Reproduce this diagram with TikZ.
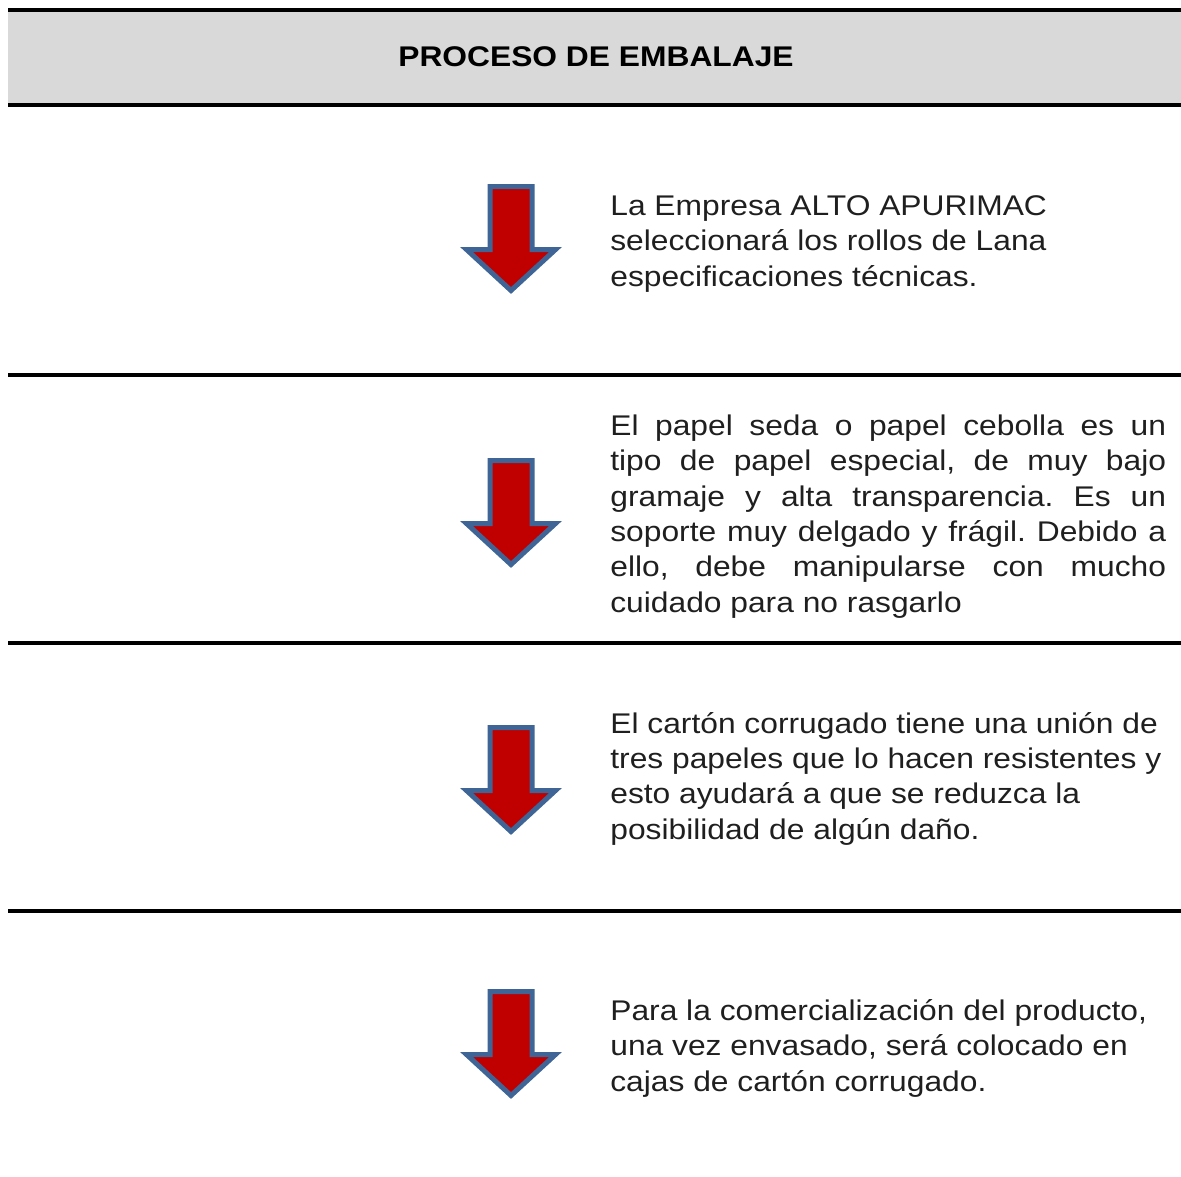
\documentclass[tikz,border=0pt]{standalone}
\usepackage{fontspec}
\setmainfont{Liberation Sans}[FakeStretch=1.116]
\usetikzlibrary{positioning}
\frenchspacing
\definecolor{gris}{HTML}{D9D9D9}
\definecolor{rojo}{HTML}{C00000}
\definecolor{azul}{HTML}{3E6595}
\newlength\anchojust
\setlength{\anchojust}{316.3pt}
\newcommand\renglon[1]{\makebox[\anchojust][s]{#1}}
\tikzset{x=0.02cm, y=-0.02cm,
  linea/.style={line width=0.08cm},
  texto/.style={anchor=base west, inner sep=0pt, align=left, text=black!88,
    font=\fontsize{16.2}{20.1}\selectfont},
  flecha/.pic={\draw[fill=rojo, draw=azul, line width=0.1cm, line join=miter]
    (-21,0) -- (21,0) -- (21,63) -- (44.5,63) -- (0,104) -- (-44.5,63) -- (-21,63) -- cycle;}}

\begin{document}
\begin{tikzpicture}
\useasboundingbox (0,0) rectangle (1181,1177);

% cabecera
\fill[gris] (8,10) rectangle (1181,105);
\draw[linea] (8,10) -- (1181,10);
\draw[linea] (8,105) -- (1181,105);
\node[font=\fontsize{16.2}{18}\selectfont\bfseries] (titulo) at (596,57) {PROCESO DE EMBALAJE};

% separadores
\draw[linea] (8,375) -- (1181,375);
\draw[linea] (8,643) -- (1181,643);
\draw[linea] (8,911) -- (1181,911);

% flechas
\pic at (511,186.5) {flecha};
\pic at (511,460.5) {flecha};
\pic at (511,727.5) {flecha};
\pic at (511,991.5) {flecha};

% textos (base = ultima linea)
\node[texto] (paso1) at (610,286) {La Empresa ALTO APURIMAC\\
  seleccionará los rollos de Lana\\
  especificaciones técnicas.};
\node[texto] (paso2) at (610,612) {\renglon{El papel seda o papel cebolla es un}\\
  \renglon{tipo de papel especial, de muy bajo}\\
  \renglon{gramaje y alta transparencia. Es un}\\
  \renglon{soporte muy delgado y frágil. Debido a}\\
  \renglon{ello, debe manipularse con mucho}\\
  cuidado para no rasgarlo};
\node[texto] (paso3) at (610,839) {El cartón corrugado tiene una unión de\\
  tres papeles que lo hacen resistentes y\\
  esto ayudará a que se reduzca la\\
  posibilidad de algún daño.};
\node[texto] (paso4) at (610,1091) {Para la comercialización del producto,\\
  una vez envasado, será colocado en\\
  cajas de cartón corrugado.};

\end{tikzpicture}
\end{document}
